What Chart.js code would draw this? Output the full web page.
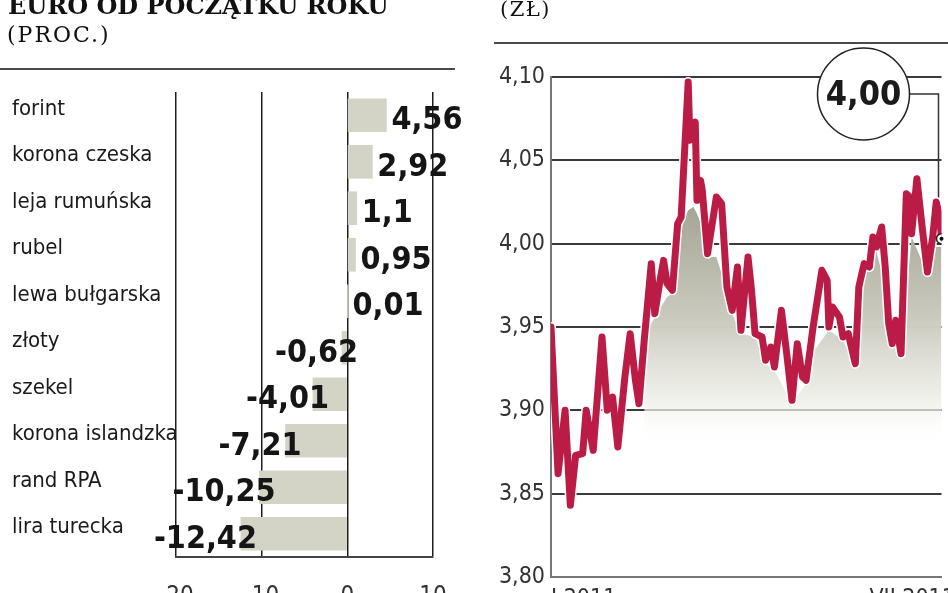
<!DOCTYPE html>
<html>
<head>
<meta charset="utf-8">
<script src="https://cdn.jsdelivr.net/npm/chart.js@4.4.1/dist/chart.umd.min.js"></script>
<style>
  html, body { margin: 0; padding: 0; background: #fff; }
  #wrap { position: relative; width: 948px; height: 593px; overflow: hidden; }
  canvas { position: absolute; top: 0; }
  .t { position: absolute; font-family: 'DejaVu Serif', serif; color: #111; white-space: nowrap; }
  .rule { position: absolute; height: 2px; background: #4a4a4a; }
</style>
</head>
<body>
<div id="wrap">
  <canvas id="bars" width="470" height="593" style="left:0"></canvas>
  <canvas id="rate" width="468" height="593" style="left:480px"></canvas>
  <div class="t" style="left:8px;top:-7px;font-size:24px;line-height:25px;font-weight:bold">EURO OD POCZĄTKU ROKU</div>
  <div class="t" style="left:7px;top:23px;font-size:22px;line-height:24px;letter-spacing:2px">(PROC.)</div>
  <div class="t" style="left:500px;top:-3px;font-size:21px;line-height:24px;letter-spacing:1.5px">(ZŁ)</div>
  <div class="rule" style="left:0;top:68px;width:455px"></div>
  <div class="rule" style="left:494px;top:42px;width:454px"></div>
</div>
<script>
// kurs euro od poczatku roku - lewy wykres (proc.)
var categories = ['forint', 'korona czeska', 'leja rumuńska', 'rubel', 'lewa bułgarska',
  'złoty', 'szekel', 'korona islandzka', 'rand RPA', 'lira turecka'];
var changes = [4.56, 2.92, 1.1, 0.95, 0.01, -0.62, -4.01, -7.21, -10.25, -12.42];
var changeTicks = [-20, -10, 0, 10];

// kurs EUR/PLN - prawy wykres (dzien roku, zl)
var days = [0, 4, 8, 11, 14, 18, 20, 24, 29, 32, 35, 38, 42, 45, 48, 50, 53, 57, 59, 62,
  64, 66, 69, 72, 74, 78, 79, 82, 83, 85, 86, 89, 94, 97, 100, 103, 106, 108, 112, 114,
  116, 120, 122, 125, 127, 131, 134, 137, 140, 143, 145, 149, 154, 157, 158, 160, 164, 166, 169, 173,
  175, 178, 181, 183, 185, 188, 190, 192, 194, 196, 199, 202, 204, 205, 208, 211, 214, 217, 219, 221, 222];
var rates = [3.950, 3.862, 3.900, 3.843, 3.873, 3.874, 3.900, 3.876, 3.944, 3.900, 3.908, 3.878, 3.920, 3.946, 3.918, 3.904, 3.942, 3.988, 3.958, 3.978,
  3.990, 3.976, 3.972, 4.012, 4.016, 4.097, 4.062, 4.073, 4.026, 4.038, 4.032, 3.994, 4.028, 4.024, 3.974, 3.960, 3.986, 3.948, 3.992, 3.972,
  3.946, 3.944, 3.930, 3.938, 3.926, 3.960, 3.934, 3.906, 3.940, 3.920, 3.918, 3.950, 3.984, 3.978, 3.950, 3.962, 3.956, 3.944, 3.946, 3.928,
  3.974, 3.988, 3.986, 4.004, 3.998, 4.010, 3.986, 3.952, 3.940, 3.954, 3.934, 4.030, 4.028, 4.006, 4.039, 4.010, 3.983, 4.004, 4.025, 4.016, 4.003];
// szary cien pod linia
var floorDays = [53, 55, 57, 59, 66, 69, 74, 78, 81, 83, 86, 89, 94, 100, 103, 108, 116, 122, 127, 137,
  145, 149, 158, 166, 173, 178, 185, 190, 194, 199, 205, 214, 217, 222];
var floorRates = [3.935, 3.950, 3.952, 3.956, 3.968, 3.970, 4.010, 4.020, 4.022, 4.018, 4.010, 3.992, 3.992, 3.972, 3.958, 3.946, 3.944, 3.928, 3.924, 3.904,
  3.916, 3.935, 3.948, 3.942, 3.926, 3.982, 3.995, 3.975, 3.940, 3.932, 4.004, 3.982, 3.998, 3.998];
var rateTicks = [3.80, 3.85, 3.90, 3.95, 4.00, 4.05, 4.10];
var monthTickDays = [0, 181];
var monthTickLabels = ['I 2011', 'VII 2011'];
var lastLabel = '4,00';

var NARROW = "'Liberation Sans Narrow', 'DejaVu Sans Condensed', 'Roboto Condensed', sans-serif";
var RED = '#bb1c46';

function comma(v, d) {
  return (d === undefined ? String(v) : v.toFixed(d)).replace('.', ',');
}

function noPad(s) {
  s.paddingLeft = 0; s.paddingRight = 0; s.paddingTop = 0; s.paddingBottom = 0;
}

// podpisy wartosci przy slupkach
var barValues = {
  id: 'barValues',
  afterDatasetsDraw: function (chart) {
    var ctx = chart.ctx;
    var meta = chart.getDatasetMeta(0);
    ctx.save();
    ctx.font = 'bold 32px ' + NARROW;
    ctx.fillStyle = '#151515';
    ctx.textBaseline = 'alphabetic';
    meta.data.forEach(function (bar, i) {
      var v = changes[i];
      var txt = comma(v);
      if (v >= 0) {
        ctx.textAlign = 'left';
        ctx.fillText(txt, bar.x + 5, bar.y + 14);
      } else {
        ctx.textAlign = 'right';
        ctx.fillText(txt, bar.x + 16, bar.y + 14);
      }
    });
    ctx.restore();
  }
};

new Chart(document.getElementById('bars').getContext('2d'), {
  type: 'bar',
  data: {
    labels: categories,
    datasets: [{
      data: changes,
      backgroundColor: '#d3d3c6',
      borderWidth: 0,
      barThickness: 33
    }]
  },
  options: {
    responsive: false,
    animation: false,
    indexAxis: 'y',
    layout: { padding: { top: 92, left: 12, right: 37, bottom: 0 } },
    plugins: { legend: { display: false }, tooltip: { enabled: false } },
    scales: {
      x: {
        min: -20, max: 10,
        afterBuildTicks: function (s) { s.ticks = changeTicks.map(function (v) { return { value: v }; }); },
        afterFit: function (s) { s.height = 36; noPad(s); },
        grid: { color: '#1e1e1e', lineWidth: 1.5, drawTicks: false },
        border: { display: true, color: '#444', width: 2 },
        ticks: { padding: 25, color: '#333', font: { family: NARROW, size: 24 } }
      },
      y: {
        afterFit: function (s) { s.width = 164; noPad(s); },
        grid: { display: false },
        border: { display: false },
        ticks: { crossAlign: 'far', labelOffset: -6, color: '#1a1a1a', font: { family: NARROW, size: 22 } }
      }
    }
  },
  plugins: [barValues]
});

// kolko z ostatnim kursem
var callout = {
  id: 'callout',
  beforeDatasetsDraw: function (chart) {
    var ctx = chart.ctx;
    var ca = chart.chartArea;
    var meta = chart.getDatasetMeta(0);
    var last = meta.data[meta.data.length - 1];
    var cx = ca.right - 78, cy = ca.top + 17, r = 46;
    ctx.save();
    ctx.strokeStyle = '#333';
    ctx.lineWidth = 1.5;
    ctx.beginPath();
    ctx.moveTo(cx + r, cy);
    ctx.lineTo(last.x - 3, cy);
    ctx.lineTo(last.x - 3, last.y);
    ctx.stroke();
    ctx.beginPath();
    ctx.arc(cx, cy, r, 0, Math.PI * 2);
    ctx.fillStyle = '#fff';
    ctx.fill();
    ctx.strokeStyle = '#222';
    ctx.stroke();
    ctx.fillStyle = '#1a1a1a';
    ctx.font = 'bold 34px ' + NARROW;
    ctx.textAlign = 'center';
    ctx.textBaseline = 'middle';
    ctx.fillText(lastLabel, cx, cy + 2);
    ctx.restore();
  },
  afterDatasetsDraw: function (chart) {
    var meta = chart.getDatasetMeta(0);
    var last = meta.data[meta.data.length - 1];
    var ctx = chart.ctx;
    ctx.save();
    ctx.fillStyle = '#111';
    ctx.beginPath();
    ctx.arc(last.x, last.y, 2, 0, Math.PI * 2);
    ctx.fill();
    ctx.restore();
  }
};

var lineData = days.map(function (d, i) { return { x: d, y: rates[i] }; });
var floorData = floorDays.map(function (d, i) { return { x: d, y: floorRates[i] }; });

function shade(context) {
  var chart = context.chart;
  var y = chart.scales.y;
  if (!chart.chartArea) return 'rgba(0,0,0,0)';
  var top = y.getPixelForValue(4.03), bottom = y.getPixelForValue(3.88);
  var g = chart.ctx.createLinearGradient(0, top, 0, bottom);
  g.addColorStop(0, 'rgba(160,161,145,1)');
  g.addColorStop(0.5, 'rgba(202,202,190,1)');
  g.addColorStop(0.85, 'rgba(240,240,235,0.8)');
  g.addColorStop(1, 'rgba(255,255,255,0)');
  return g;
}

new Chart(document.getElementById('rate').getContext('2d'), {
  type: 'line',
  data: {
    datasets: [{
      data: lineData,
      order: 0,
      borderColor: RED,
      borderWidth: 7,
      borderJoinStyle: 'round',
      borderCapStyle: 'round',
      tension: 0,
      fill: false,
      pointRadius: function (c) { return c.dataIndex === lineData.length - 1 ? 5 : 0; },
      pointBackgroundColor: '#fff',
      pointBorderColor: '#222',
      pointBorderWidth: 1.5
    }, {
      data: lineData,
      order: 1,
      borderColor: '#fff',
      borderWidth: 10,
      borderJoinStyle: 'round',
      borderCapStyle: 'round',
      tension: 0,
      fill: false,
      pointRadius: 0
    }, {
      data: floorData,
      order: 2,
      borderWidth: 0,
      borderColor: 'rgba(0,0,0,0)',
      backgroundColor: shade,
      tension: 0,
      fill: 'start',
      pointRadius: 0
    }]
  },
  options: {
    responsive: false,
    animation: false,
    layout: { padding: { top: 77, right: 6, left: 0, bottom: 0 } },
    plugins: { legend: { display: false }, tooltip: { enabled: false } },
    scales: {
      x: {
        type: 'linear',
        min: 0, max: 222,
        afterBuildTicks: function (s) { s.ticks = monthTickDays.map(function (v) { return { value: v }; }); },
        afterFit: function (s) { s.height = 16; noPad(s); },
        grid: { display: false, drawTicks: false },
        border: { display: true, color: '#777', width: 2 },
        ticks: {
          align: 'start',
          padding: 8,
          color: '#333',
          font: { family: NARROW, size: 23 },
          callback: function (v) { return monthTickLabels[monthTickDays.indexOf(v)]; }
        }
      },
      y: {
        min: 3.8, max: 4.1,
        afterBuildTicks: function (s) { s.ticks = rateTicks.map(function (v) { return { value: v }; }); },
        afterFit: function (s) { s.width = 71; noPad(s); },
        grid: { color: '#3a3a3a', lineWidth: 2, drawTicks: false },
        border: { display: true, color: '#777', width: 2 },
        ticks: {
          padding: 6,
          color: '#333',
          font: { family: NARROW, size: 23 },
          callback: function (v) { return comma(v, 2); }
        }
      }
    }
  },
  plugins: [callout]
});
</script>
</body>
</html>
